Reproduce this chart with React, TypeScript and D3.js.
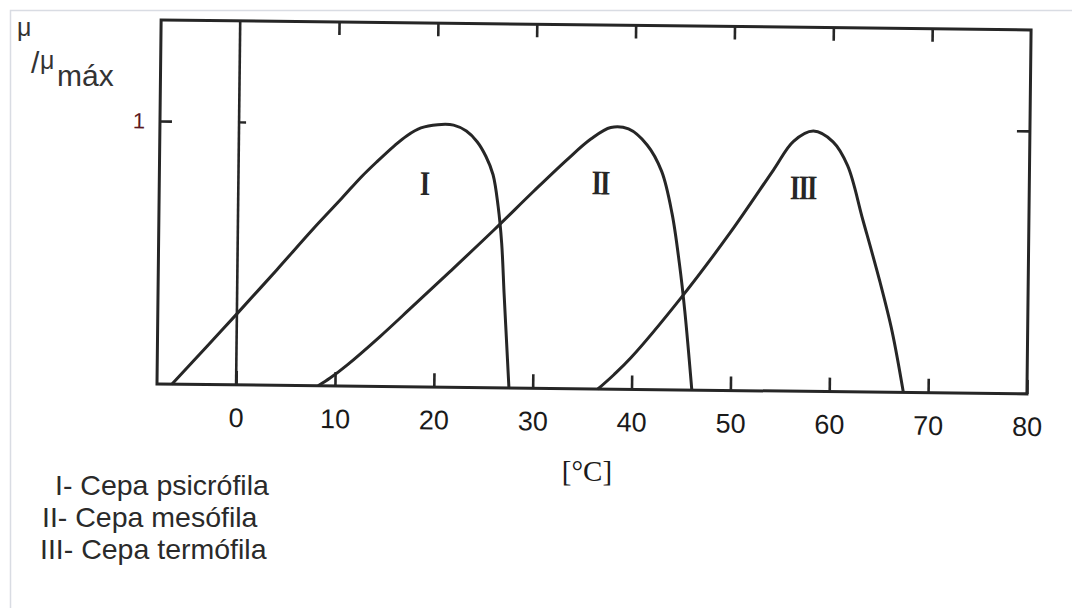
import React, { useEffect, useRef } from "react";
import * as d3 from "d3";

// temperature ticks (°C) and growth-rate tick
const xTicks = [0, 10, 20, 30, 40, 50, 60, 70, 80];
const yTicks = [1];

// [T (°C), mu/mu_max]
const psicrofila: [number, number][] = [
  [-6.5, 0], [-3, 0.145], [0, 0.27], [4, 0.44], [7.7, 0.6], [10.5, 0.715],
  [12.4, 0.795], [14, 0.855], [15.7, 0.915], [17, 0.955], [18.4, 0.985],
  [20.1, 0.998], [21.7, 0.997], [23, 0.975], [24.1, 0.935], [25.0, 0.88],
  [25.75, 0.81], [26.3, 0.69], [26.7, 0.55], [27.0, 0.36], [27.3, 0.18],
  [27.6, 0],
];
const mesofila: [number, number][] = [
  [8.3, 0], [9.5, 0.03], [11.2, 0.08], [14.5, 0.19], [17.6, 0.3],
  [21.5, 0.44], [25.9, 0.6], [29.9, 0.75], [33.2, 0.87], [35.6, 0.95],
  [37.6, 0.995], [39.4, 0.99], [41.3, 0.93], [42.8, 0.83], [43.9, 0.67],
  [44.7, 0.48], [45.3, 0.3], [46.1, 0],
];
const termofila: [number, number][] = [
  [36.6, 0], [38.2, 0.055], [39.9, 0.12], [44.9, 0.35], [49.8, 0.6],
  [54.1, 0.84], [56.1, 0.95], [58.1, 0.99], [60.1, 0.95], [61.6, 0.86],
  [63.2, 0.655], [65.0, 0.42], [66.3, 0.23], [67.5, 0],
];

const curveNames = ["I", "II", "III"];
const curveLabelAt: [number, number][] = [[18.8, 0.73], [36.6, 0.74], [57.1, 0.73]];

const legendLines = ["I- Cepa psicrófila", "II- Cepa mesófila", "III- Cepa termófila"];

const App = () => {
  const ref = useRef<SVGSVGElement>(null);

  useEffect(() => {
    const svg = d3.select(ref.current);
    svg.selectAll("*").remove();

    const left = 157, right = 1027, top = 20, bottom = 384;
    const ink = "#262626";

    const x = d3.scaleLinear().domain([-8, 80]).range([left, right]);
    const y = d3.scaleLinear().domain([0, 1.384]).range([bottom, top]);

    // faint frame of the screenshot
    svg
      .append("path")
      .attr("d", "M10.5,608 V10.5 H1072")
      .attr("fill", "none")
      .attr("stroke", "#d9dce3")
      .attr("stroke-width", 1.5);

    // the scanned plot is slightly tilted
    const g = svg
      .append("g")
      .attr("transform", `rotate(0.65, ${left}, ${bottom})`);

    g.append("rect")
      .attr("x", left)
      .attr("y", top)
      .attr("width", right - left)
      .attr("height", bottom - top)
      .attr("fill", "none")
      .attr("stroke", ink)
      .attr("stroke-width", 3);

    // vertical line at 0 °C
    g.append("line")
      .attr("x1", x(0))
      .attr("x2", x(0))
      .attr("y1", top)
      .attr("y2", bottom)
      .attr("stroke", ink)
      .attr("stroke-width", 2.6);

    const bottomAxis = d3
      .axisBottom(x)
      .tickValues(xTicks)
      .tickSizeInner(-14)
      .tickSizeOuter(0)
      .tickPadding(23)
      .tickFormat(d3.format("d"));
    const ax = g
      .append("g")
      .attr("transform", `translate(0,${bottom})`)
      .call(bottomAxis);
    ax.select(".domain").remove();
    ax.selectAll("line").attr("stroke", ink).attr("stroke-width", 2.6);
    ax.selectAll("text")
      .attr("fill", "#1a1a1a")
      .attr("font-family", "'Liberation Sans', Arial, sans-serif")
      .attr("font-size", 27);

    const topAxis = d3
      .axisTop(x)
      .tickValues(xTicks.slice(1, -1))
      .tickSizeInner(-13)
      .tickSizeOuter(0)
      .tickFormat(() => "");
    const at = g
      .append("g")
      .attr("transform", `translate(0,${top})`)
      .call(topAxis);
    at.select(".domain").remove();
    at.selectAll("line").attr("stroke", ink).attr("stroke-width", 2.6);

    const leftAxis = d3
      .axisLeft(y)
      .tickValues(yTicks)
      .tickSizeInner(-12)
      .tickSizeOuter(0)
      .tickPadding(15)
      .tickFormat(d3.format("d"));
    const al = g
      .append("g")
      .attr("transform", `translate(${left},0)`)
      .call(leftAxis);
    al.select(".domain").remove();
    al.selectAll("line").attr("stroke", ink).attr("stroke-width", 2.6);
    al.selectAll("text")
      .attr("fill", "#5a1822")
      .attr("font-family", "'Liberation Sans', Arial, sans-serif")
      .attr("font-size", 22);

    const zeroAxis = d3
      .axisRight(y)
      .tickValues(yTicks)
      .tickSizeInner(7)
      .tickSizeOuter(0)
      .tickFormat(() => "");
    const az = g
      .append("g")
      .attr("transform", `translate(${x(0)},0)`)
      .call(zeroAxis);
    az.select(".domain").remove();
    az.selectAll("line").attr("stroke", ink).attr("stroke-width", 2.4);

    const rightAxis = d3
      .axisRight(y)
      .tickValues(yTicks)
      .tickSizeInner(-13)
      .tickSizeOuter(0)
      .tickFormat(() => "");
    const ar = g
      .append("g")
      .attr("transform", `translate(${right},0)`)
      .call(rightAxis);
    ar.select(".domain").remove();
    ar.selectAll("line").attr("stroke", ink).attr("stroke-width", 2.6);

    const line = d3
      .line<[number, number]>()
      .x((d) => x(d[0]))
      .y((d) => y(d[1]))
      .curve(d3.curveCatmullRom.alpha(0.5));

    g.append("g")
      .selectAll("path")
      .data([psicrofila, mesofila, termofila])
      .enter()
      .append("path")
      .attr("d", (d) => line(d) as string)
      .attr("fill", "none")
      .attr("stroke", ink)
      .attr("stroke-width", 3)
      .attr("stroke-linejoin", "round");

    g.append("g")
      .selectAll("text")
      .data(curveNames)
      .enter()
      .append("text")
      .attr(
        "transform",
        (d, i) =>
          `translate(${x(curveLabelAt[i][0])},${y(curveLabelAt[i][1])}) scale(0.8,1.05)`
      )
      .attr("text-anchor", "middle")
      .attr("font-family", "'Liberation Serif', 'Times New Roman', serif")
      .attr("font-weight", "bold")
      .attr("font-size", 33)
      .attr("letter-spacing", -2)
      .attr("fill", ink)
      .text((d) => d);

    // axis title
    svg
      .append("text")
      .attr("x", 587)
      .attr("y", 481)
      .attr("text-anchor", "middle")
      .attr("font-family", "'Liberation Serif', 'Times New Roman', serif")
      .attr("font-size", 29)
      .attr("fill", "#1a1a1a")
      .text("[°C]");

    // y label  μ/μmáx
    const yl = svg
      .append("g")
      .attr("font-family", "'Liberation Sans', Arial, sans-serif")
      .attr("fill", "#333");
    yl.append("text").attr("x", 17).attr("y", 36).attr("font-size", 25).text("μ");
    yl.append("text").attr("x", 31).attr("y", 73).attr("font-size", 30).text("/");
    yl.append("text").attr("x", 40).attr("y", 69).attr("font-size", 25).text("μ");
    yl.append("text").attr("x", 57).attr("y", 86).attr("font-size", 30).text("máx");

    // legend
    const lx = [55, 42, 40];
    svg
      .append("g")
      .attr("font-family", "'Liberation Sans', Arial, sans-serif")
      .attr("font-size", 28.5)
      .attr("fill", "#2a2a2a")
      .selectAll("text")
      .data(legendLines)
      .enter()
      .append("text")
      .attr("x", (d, i) => lx[i])
      .attr("y", (d, i) => 495 + i * 32)
      .text((d) => d);
  }, []);

  return (
    <svg
      ref={ref}
      width={1072}
      height={608}
      style={{ position: "absolute", left: 0, top: 0, background: "#fff" }}
    />
  );
};

export default App;
